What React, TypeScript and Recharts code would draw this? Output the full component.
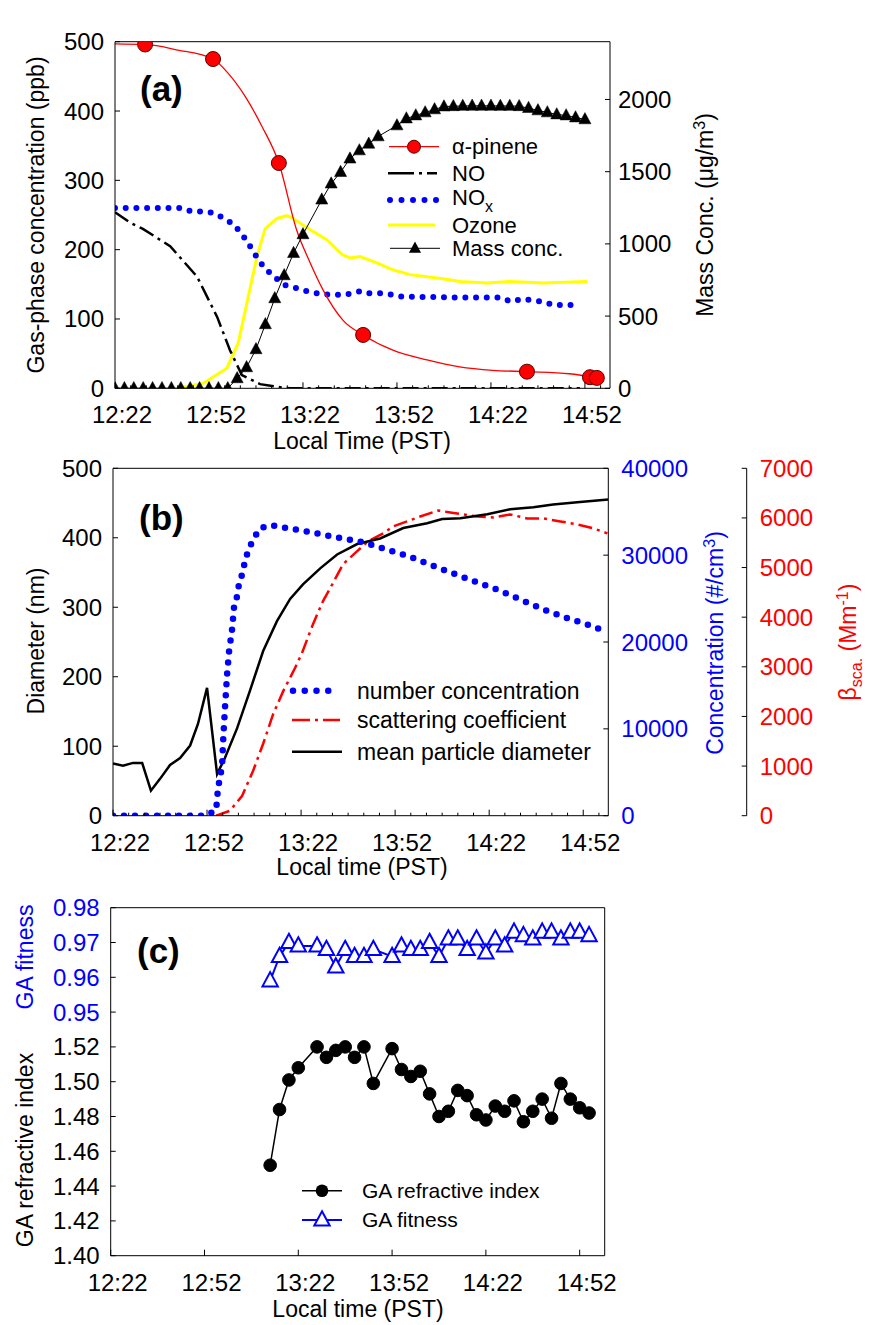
import React from "react";
import { ComposedChart, Line, XAxis, YAxis, ReferenceLine } from "recharts";

const FONT = '"Liberation Sans", Arial, Helvetica, sans-serif';
const BLUE = "#0000ff";
const RED = "#ff0000";
const YELLOW = "#ffff00";

// time axis: minutes after 12:22
const timeTicks = [0, 5, 10, 15, 20, 25, 30, 35, 40, 45, 50, 55, 60, 65, 70, 75, 80, 85, 90, 95, 100, 105, 110, 115, 120, 125, 130, 135, 140, 145, 150, 155];
const majorTimeTicks = [0, 30, 60, 90, 120, 150];

// ---- panel (a)
const ppbTicks = [0, 100, 200, 300, 400, 500];
const massTicks = [0, 500, 1000, 1500, 2000];

const pineneTime = [9.6, 31.3, 52.3, 79.2, 131.5, 151.6, 153.8];
const pinenePpb = [496, 475, 325, 77, 24, 16, 15];

const pineneFitTime = [0, 9.6, 20, 31.3, 36, 41.7, 47, 52.3, 58, 62, 66.4, 72.8, 79.2, 88.7, 99.6, 110, 120.6, 131.5, 145, 153.8];
const pineneFitPpb = [497, 496, 488, 475, 455, 420, 377, 325, 228, 184, 142, 98, 77, 55, 41, 31, 26, 24, 21, 15];

const noTime = [0, 4.8, 8.9, 17.6, 26.2, 32.6, 36.7, 40.5, 46.3, 53.6, 56, 148.4];
const noPpb = [254, 239, 230, 205, 161, 103, 55, 19, 6, 1, 0, 0];

const noxTime = [0, 21.4, 24.6, 27.8, 31.3, 34.5, 38, 40.9, 43.1, 45.3, 47.6, 50.8, 54, 57.5, 61.3, 64.5, 68, 73.4, 78.2, 80.4, 85.2, 88.7, 91.9, 95.1, 110, 122.9, 126.4, 129.9, 133.1, 136.6, 140.1, 146.8];
const noxPpb = [260, 260, 255, 255, 253, 246, 236, 220, 205, 189, 174, 161, 149, 145, 140, 137, 135, 135, 140, 137, 137, 135, 132, 132, 131, 131, 125, 129, 127, 125, 120, 120];

const ozoneTime = [19.8, 28.1, 35.7, 39.3, 42.1, 45.3, 47.9, 51.7, 54.9, 56.5, 62.2, 67.7, 72.5, 75, 78.2, 83.6, 88.7, 94.2, 99.6, 104.7, 110.1, 118.7, 126.1, 136.6, 150.7];
const ozonePpb = [0, 7, 29, 65, 123, 190, 230, 245, 249, 246, 229, 214, 193, 188, 190, 181, 171, 164, 161, 158, 154, 152, 154, 152, 154];

const massTime = [0, 3, 6, 9, 12, 15, 18, 21, 24, 27, 30, 33, 36, 39, 42, 45, 48, 51, 54, 57, 60, 66, 69, 72, 75, 78, 81, 84, 90, 93, 96, 99, 102, 105, 108, 111, 114, 117, 120, 123, 126, 129, 132, 135, 138, 141, 144, 147, 150];
const massConc = [0, 0, 0, 0, 0, 0, 0, 0, 0, 0, 0, 0, 0, 69, 145, 270, 443, 623, 782, 936, 1066, 1306, 1417, 1497, 1590, 1647, 1693, 1744, 1820, 1868, 1889, 1910, 1931, 1951, 1953, 1955, 1956, 1956, 1956, 1955, 1955, 1953, 1940, 1924, 1910, 1896, 1889, 1875, 1862];

// ---- panel (b)
const diaTicks = [0, 100, 200, 300, 400, 500];
const concTicks = [0, 10000, 20000, 30000, 40000];
const bscaTicks = [0, 1000, 2000, 3000, 4000, 5000, 6000, 7000];

const numTime = [0, 29.4, 32.9, 33.5, 34.2, 34.8, 35.1, 35.7, 36.4, 37, 38, 38.6, 39.6, 40.2, 41.2, 42.1, 43.1, 44.7, 46.9, 50.4, 54.3, 61.6, 72.1, 79.5, 86.8, 94.2, 101.5, 108.5, 115.9, 122.9, 130.5, 137.6, 144.9, 151.9, 155.8];
const numConc = [0, 0, 600, 3200, 4500, 5750, 8400, 12300, 16300, 18850, 21500, 24000, 25300, 26700, 27800, 29300, 30500, 31800, 33100, 33450, 33200, 32750, 32000, 31500, 30700, 29900, 28850, 27900, 26900, 26000, 24800, 23700, 22750, 21950, 21400];

const scatTime = [32.9, 37.3, 41.2, 44.7, 47.9, 51.1, 54.3, 58.1, 60.3, 63.8, 67, 70.2, 73.4, 77.9, 81.4, 86.2, 89.4, 93.8, 98, 103.7, 107.6, 111.7, 116.2, 121.3, 126.7, 132.1, 137.2, 142.7, 148.1, 153.2, 157.7];
const scatCoef = [0, 100, 400, 905, 1450, 2050, 2510, 2980, 3280, 3860, 4325, 4690, 5070, 5330, 5530, 5690, 5830, 5930, 6030, 6150, 6110, 6070, 6030, 6010, 6070, 5990, 5990, 5930, 5870, 5790, 5690];

const diaTime = [0, 3.2, 6.4, 9.3, 12.1, 15, 18.2, 21.4, 24.6, 27.1, 30, 33.2, 35.7, 39.6, 43.7, 47.9, 52.3, 56.5, 60.6, 66.1, 71.5, 77.9, 85.2, 92.6, 100.2, 105, 110.8, 119.4, 126.7, 134.1, 140.4, 148.1, 158];
const diaNm = [75, 72, 76, 76, 36, 53, 73, 83, 101, 132, 184, 60, 83, 126, 180, 237, 280, 312, 333, 356, 376, 391, 399, 414, 421, 427, 428, 434, 441, 444, 448, 451, 455];

// ---- panel (c)
const riTicks = [1.4, 1.42, 1.44, 1.46, 1.48, 1.5, 1.52];
const fitTicks = [0.95, 0.96, 0.97, 0.98];

const gaTime = [51, 54, 57, 60, 66, 69, 72, 75, 78, 81, 84, 90, 93, 96, 99, 102, 105, 108, 111, 114, 117, 120, 123, 126, 129, 132, 135, 138, 141, 144, 147, 150, 153];
const gaIndex = [1.452, 1.484, 1.501, 1.508, 1.52, 1.514, 1.518, 1.52, 1.514, 1.52, 1.499, 1.519, 1.507, 1.503, 1.506, 1.493, 1.48, 1.483, 1.495, 1.492, 1.481, 1.478, 1.486, 1.483, 1.489, 1.477, 1.483, 1.49, 1.479, 1.499, 1.49, 1.485, 1.482];
const gaFitness = [0.959, 0.966, 0.97, 0.969, 0.969, 0.968, 0.963, 0.968, 0.966, 0.966, 0.968, 0.966, 0.969, 0.968, 0.968, 0.97, 0.966, 0.971, 0.971, 0.968, 0.971, 0.967, 0.971, 0.969, 0.973, 0.972, 0.971, 0.973, 0.973, 0.971, 0.973, 0.973, 0.972];

const zip = (t: number[], v: number[]) => t.map((x, i) => ({ t: x, v: v[i] }));

const fmtTime = (m: number) => {
  const total = 12 * 60 + 22 + m;
  const h = Math.floor(total / 60);
  const mm = total % 60;
  return `${h}:${String(mm).padStart(2, "0")}`;
};

const timeTick = (withMinor: boolean) => (props: any) => {
  const { x, y, payload } = props;
  const v = payload.value;
  const major = v % 30 === 0;
  if (!major && !withMinor) return <g />;
  return (
    <g>
      <line x1={x} x2={x} y1={y} y2={y - (major ? 6 : 3)} stroke="#000" />
      {major && (
        <text x={x + 7} y={y + 35} textAnchor="middle" fontSize={24} fill="#000" fontFamily={FONT}>
          {fmtTime(v)}
        </text>
      )}
    </g>
  );
};

const leftTick = (color: string, digits = 0) => (props: any) => {
  const { x, y, payload } = props;
  return (
    <g>
      <line x1={x} x2={x + 5} y1={y} y2={y} stroke="#000" />
      <text x={x - 11} y={y + 8.5} textAnchor="end" fontSize={24} fill={color} fontFamily={FONT}>
        {Number(payload.value).toFixed(digits)}
      </text>
    </g>
  );
};

const rightTick = (color: string, gap: number) => (props: any) => {
  const { x, y, payload } = props;
  return (
    <g>
      <line x1={x} x2={x - 5} y1={y} y2={y} stroke="#000" />
      <text x={x + gap} y={y + 8.5} textAnchor="start" fontSize={24} fill={color} fontFamily={FONT}>
        {payload.value}
      </text>
    </g>
  );
};

const triangle = (cx: number, cy: number, s: number) =>
  `M${cx},${cy - s * 0.62}L${cx + s * 0.55},${cy + s * 0.4}L${cx - s * 0.55},${cy + s * 0.4}Z`;

const triDot = (size: number, fill: string, stroke: string, sw: number) => (props: any) => {
  const { cx, cy, index } = props;
  if (cx == null || cy == null) return <g key={`t-${index}`} />;
  return <path key={`t-${index}`} d={triangle(cx, cy, size)} fill={fill} stroke={stroke} strokeWidth={sw} />;
};

const circleDot = (r: number, fill: string, stroke: string) => (props: any) => {
  const { cx, cy, index } = props;
  if (cx == null || cy == null) return <g key={`c-${index}`} />;
  return <circle key={`c-${index}`} cx={cx} cy={cy} r={r} fill={fill} stroke={stroke} strokeWidth={1} />;
};

const axisCommon = { tickLine: false, tickSize: 0, tickMargin: 0, interval: 0 as const, stroke: "#000", allowDataOverflow: true };

const PanelA = () => (
  <ComposedChart width={869} height={440} margin={{ top: 41.7, right: 0, bottom: 11.7, left: 0 }}>
    <XAxis xAxisId="t" type="number" dataKey="t" domain={[0, 158]} ticks={timeTicks} tick={timeTick(true)} height={40} {...axisCommon} />
    <YAxis yAxisId="ppb" type="number" domain={[0, 500]} ticks={ppbTicks} width={115} tick={leftTick("#000")} {...axisCommon} />
    <YAxis yAxisId="mass" type="number" orientation="right" domain={[0, 2400]} ticks={massTicks} width={259} tick={rightTick("#000", 8)} {...axisCommon} />
    <ReferenceLine xAxisId="t" yAxisId="ppb" y={500} stroke="#000" />
    <Line xAxisId="t" yAxisId="ppb" data={zip(ozoneTime, ozonePpb)} dataKey="v" type="linear" stroke={YELLOW} strokeWidth={3} dot={false} activeDot={false} isAnimationActive={false} />
    <Line xAxisId="t" yAxisId="ppb" data={zip(noxTime, noxPpb)} dataKey="v" type="linear" stroke={BLUE} strokeWidth={6} strokeDasharray="0 10.7" strokeLinecap="round" dot={false} activeDot={false} isAnimationActive={false} />
    <Line xAxisId="t" yAxisId="ppb" data={zip(noTime, noPpb)} dataKey="v" type="linear" stroke="#000" strokeWidth={2.5} strokeDasharray="16 5 3 5" dot={false} activeDot={false} isAnimationActive={false} />
    <Line xAxisId="t" yAxisId="ppb" data={zip(pineneFitTime, pineneFitPpb)} dataKey="v" type="monotone" stroke={RED} strokeWidth={1.3} dot={false} activeDot={false} isAnimationActive={false} />
    <Line xAxisId="t" yAxisId="mass" data={zip(massTime, massConc)} dataKey="v" type="linear" stroke="#000" strokeWidth={1} dot={triDot(11, "#000", "#000", 0.5)} activeDot={false} isAnimationActive={false} />
    <Line xAxisId="t" yAxisId="ppb" data={zip(pineneTime, pinenePpb)} dataKey="v" type="linear" stroke="none" dot={circleDot(7.5, RED, "#5a0000")} activeDot={false} isAnimationActive={false} />
  </ComposedChart>
);

const PanelB = () => (
  <ComposedChart width={869} height={440} margin={{ top: 28.3, right: 0, bottom: 24.3, left: 0 }}>
    <XAxis xAxisId="t" type="number" dataKey="t" domain={[0, 158]} ticks={timeTicks} tick={timeTick(true)} height={40} {...axisCommon} />
    <YAxis yAxisId="dia" type="number" domain={[0, 500]} ticks={diaTicks} width={113} tick={leftTick("#000")} {...axisCommon} />
    <YAxis yAxisId="conc" type="number" orientation="right" domain={[0, 40000]} ticks={concTicks} width={138.4} tick={rightTick(BLUE, 13)} {...axisCommon} />
    <YAxis yAxisId="scat" type="number" orientation="right" domain={[0, 7000]} ticks={bscaTicks} width={122.3} tick={rightTick(RED, 13)} {...axisCommon} />
    <ReferenceLine xAxisId="t" yAxisId="dia" y={500} stroke="#000" />
    <Line xAxisId="t" yAxisId="scat" data={zip(scatTime, scatCoef)} dataKey="v" type="linear" stroke={RED} strokeWidth={2.5} strokeDasharray="14 5 3 5" dot={false} activeDot={false} isAnimationActive={false} />
    <Line xAxisId="t" yAxisId="dia" data={zip(diaTime, diaNm)} dataKey="v" type="linear" stroke="#000" strokeWidth={2.5} dot={false} activeDot={false} isAnimationActive={false} />
    <Line xAxisId="t" yAxisId="conc" data={zip(numTime, numConc)} dataKey="v" type="linear" stroke={BLUE} strokeWidth={6.5} strokeDasharray="0 11" strokeLinecap="round" dot={false} activeDot={false} isAnimationActive={false} />
  </ComposedChart>
);

const PanelC = () => (
  <ComposedChart width={869} height={445} margin={{ top: 27.7, right: 264.3, bottom: 29.3, left: 0 }}>
    <XAxis xAxisId="t" type="number" dataKey="t" domain={[0, 158]} ticks={majorTimeTicks} tick={timeTick(false)} height={40} {...axisCommon} />
    <YAxis yAxisId="ri" type="number" domain={[1.4, 1.6]} ticks={riTicks} width={110.7} tick={leftTick("#000", 2)} {...axisCommon} />
    <YAxis yAxisId="fit" type="number" mirror axisLine={false} domain={[0.88, 0.98]} ticks={fitTicks} tick={leftTick(BLUE, 2)} {...axisCommon} />
    <ReferenceLine xAxisId="t" yAxisId="ri" y={1.6} stroke="#000" />
    <ReferenceLine xAxisId="t" yAxisId="ri" x={158} stroke="#000" />
    <Line xAxisId="t" yAxisId="ri" data={zip(gaTime, gaIndex)} dataKey="v" type="linear" stroke="#000" strokeWidth={1.5} dot={circleDot(6.3, "#000", "#000")} activeDot={false} isAnimationActive={false} />
    <Line xAxisId="t" yAxisId="fit" data={zip(gaTime, gaFitness)} dataKey="v" type="linear" stroke={BLUE} strokeWidth={2} dot={triDot(14, "#fff", BLUE, 2)} activeDot={false} isAnimationActive={false} />
  </ComposedChart>
);

const VText = ({ x, y, color = "#000", size = 23, children }: any) => (
  <text x={x} y={y} transform={`rotate(-90 ${x} ${y})`} textAnchor="middle" dy="0.35em" fontSize={size} fill={color}>
    {children}
  </text>
);

const HText = ({ x, y, color = "#000", size = 23, anchor = "middle", children }: any) => (
  <text x={x} y={y} textAnchor={anchor} dy="0.35em" fontSize={size} fill={color}>
    {children}
  </text>
);

const Annotations = () => (
  <svg width={869} height={1325} style={{ position: "absolute", left: 0, top: 0, pointerEvents: "none" }} fontFamily={FONT}>
    {/* panel letters */}
    <text x={140} y={101} fontSize={35} fontWeight="bold">(a)</text>
    <text x={139} y={530} fontSize={35} fontWeight="bold">(b)</text>
    <text x={137} y={963} fontSize={35} fontWeight="bold">(c)</text>

    {/* panel (a) titles */}
    <VText x={36} y={215}>Gas-phase concentration (ppb)</VText>
    <VText x={705} y={215}>
      Mass Conc. (μg/m<tspan dy={-8} fontSize={16}>3</tspan><tspan dy={8}>)</tspan>
    </VText>
    <HText x={362} y={441}>Local Time (PST)</HText>

    {/* panel (a) legend */}
    <line x1={389} x2={439} y1={146.7} y2={146.7} stroke={RED} strokeWidth={1.3} />
    <circle cx={414} cy={146.7} r={6.5} fill={RED} stroke="#5a0000" />
    <HText x={452} y={146.7} size={22} anchor="start">α-pinene</HText>
    <line x1={388} x2={437} y1={173.3} y2={173.3} stroke="#000" strokeWidth={2.5} strokeDasharray="26 5 3 5" />
    <HText x={452} y={173.3} size={22} anchor="start">NO</HText>
    <line x1={390} x2={437} y1={200} y2={200} stroke={BLUE} strokeWidth={6} strokeDasharray="0 11.5" strokeLinecap="round" />
    <HText x={452} y={197} size={22} anchor="start">
      NO<tspan dy={7} fontSize={16}>x</tspan>
    </HText>
    <line x1={388} x2={435} y1={225} y2={225} stroke={YELLOW} strokeWidth={3} />
    <HText x={452} y={225} size={22} anchor="start">Ozone</HText>
    <line x1={390} x2={440} y1={248.3} y2={248.3} stroke="#000" strokeWidth={1} />
    <path d={triangle(415, 248.3, 11)} fill="#000" />
    <HText x={452} y={248.3} size={22} anchor="start">Mass conc.</HText>

    {/* panel (b) titles */}
    <VText x={36} y={641}>Diameter (nm)</VText>
    <VText x={715} y={643} color={BLUE}>
      Concentration (#/cm<tspan dy={-8} fontSize={16}>3</tspan><tspan dy={8}>)</tspan>
    </VText>
    <VText x={848} y={642} color={RED}>
      β<tspan dy={6} fontSize={16}>sca.</tspan><tspan dy={-6}> (Mm</tspan><tspan dy={-8} fontSize={16}>-1</tspan><tspan dy={8}>)</tspan>
    </VText>
    <HText x={362} y={867}>Local time (PST)</HText>

    {/* panel (b) legend */}
    <line x1={293} x2={340} y1={690.7} y2={690.7} stroke={BLUE} strokeWidth={6.5} strokeDasharray="0 11.75" strokeLinecap="round" />
    <HText x={357} y={690.7} anchor="start">number concentration</HText>
    <line x1={292} x2={340} y1={720} y2={720} stroke={RED} strokeWidth={2.5} strokeDasharray="18 5 3 5" />
    <HText x={357} y={720} anchor="start">scattering coefficient</HText>
    <line x1={292} x2={342} y1={751.7} y2={751.7} stroke="#000" strokeWidth={2.5} />
    <HText x={357} y={751.7} anchor="start">mean particle diameter</HText>

    {/* panel (c) titles */}
    <VText x={25} y={1150}>GA refractive index</VText>
    <VText x={25} y={957} color={BLUE}>GA fitness</VText>
    <HText x={358} y={1309}>Local time (PST)</HText>

    {/* panel (c) legend */}
    <line x1={302} x2={342} y1={1190.7} y2={1190.7} stroke="#000" strokeWidth={1.5} />
    <circle cx={322} cy={1190.7} r={6.3} fill="#000" />
    <HText x={362} y={1190.7} size={21} anchor="start">GA refractive index</HText>
    <line x1={302} x2={342} y1={1220} y2={1220} stroke={BLUE} strokeWidth={2} />
    <path d={triangle(322, 1220, 14)} fill="#fff" stroke={BLUE} strokeWidth={2} />
    <HText x={362} y={1220} size={21} anchor="start">GA fitness</HText>
  </svg>
);

export default function App() {
  return (
    <div style={{ position: "absolute", left: 0, top: 0, width: 869, height: 1325, background: "#fff", fontFamily: FONT }}>
      <div style={{ position: "absolute", left: 0, top: 0 }}>
        <PanelA />
      </div>
      <div style={{ position: "absolute", left: 0, top: 440 }}>
        <PanelB />
      </div>
      <div style={{ position: "absolute", left: 0, top: 880 }}>
        <PanelC />
      </div>
      <Annotations />
    </div>
  );
}
